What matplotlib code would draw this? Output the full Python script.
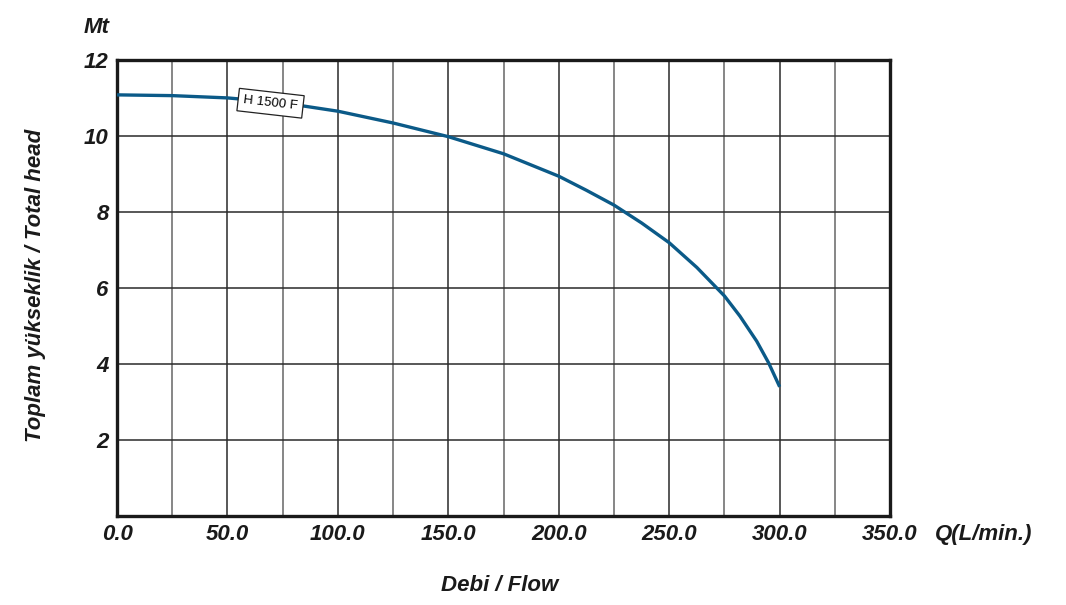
import matplotlib
matplotlib.use('Agg')
import matplotlib.pyplot as plt

plt.rcParams['font.family'] = ['Liberation Sans', 'DejaVu Sans']

# pump curve H 1500 F
flow = [0, 25, 50, 75, 100, 125, 150, 175, 200, 212.5, 225, 237.5, 250, 262.5, 275, 282, 289.6, 295, 300]
head = [11.08, 11.06, 11.0, 10.87, 10.65, 10.34, 9.98, 9.53, 8.94, 8.57, 8.18, 7.71, 7.19, 6.54, 5.79,
        5.26, 4.60, 4.03, 3.40]
curve_name = 'H 1500 F'

x_ticks = [0, 50, 100, 150, 200, 250, 300, 350]
y_ticks = [2, 4, 6, 8, 10, 12]

fig = plt.figure(figsize=(10.66, 6.05), dpi=100)
ax = fig.add_axes([0.1098, 0.147, 0.7252, 0.754])

# grid: every 25 on x (50s darker), every 2 on y
for v in range(25, 350, 25):
    c = '#2a2a2a' if v % 50 == 0 else '#666666'
    ax.axvline(v, color=c, lw=1.1, zorder=1)
for h in range(2, 12, 2):
    ax.axhline(h, color='#2a2a2a', lw=1.1, zorder=1)

ax.plot(flow, head, color='#0b5a88', lw=2.4, solid_capstyle='butt', solid_joinstyle='round', zorder=3)

ax.text(69.5, 10.86, curve_name, fontsize=9.5, rotation=-6.5, ha='center', va='center',
        zorder=4, bbox=dict(boxstyle='square,pad=0.4', fc='white', ec='#222222', lw=0.9))

ax.set_xlim(0, 350)
ax.set_ylim(0, 12)
ax.set_xticks(x_ticks)
ax.set_xticklabels([f'{t:.1f}' for t in x_ticks])
ax.set_yticks(y_ticks)
ax.set_yticklabels([str(t) for t in y_ticks])
ax.tick_params(length=0, labelsize=16, pad=6)
for lab in ax.get_xticklabels() + ax.get_yticklabels():
    lab.set_fontweight('bold')
    lab.set_fontstyle('italic')
    lab.set_color('#1a1a1a')

for s in ax.spines.values():
    s.set_linewidth(2.4)
    s.set_color('#1a1a1a')

bi = dict(fontweight='bold', fontstyle='italic', color='#1a1a1a')
fig.text(0.091, 0.955, 'Mt', fontsize=16, ha='center', va='center', **bi)
fig.text(0.877, 0.116, 'Q(L/min.)', fontsize=16, ha='left', va='center', **bi)
fig.text(0.469, 0.033, 'Debi / Flow', fontsize=16, ha='center', va='center', **bi)
fig.text(0.033, 0.529, 'Toplam yükseklik / Total head', fontsize=16, rotation=90,
         ha='center', va='center', **bi)

fig.savefig('out.png', dpi=100)
